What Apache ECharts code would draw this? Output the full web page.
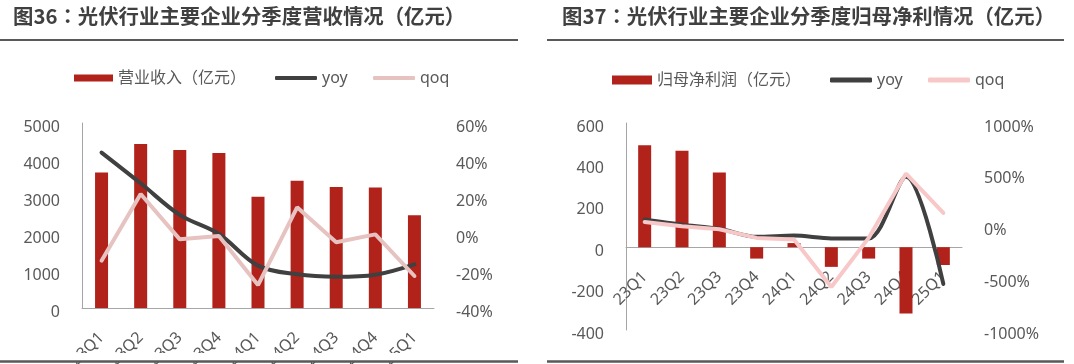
<!DOCTYPE html>
<html><head><meta charset="utf-8">
<script src="https://cdn.jsdelivr.net/npm/echarts@6/dist/echarts.min.js"></script>
<style>html,body{margin:0;padding:0;background:#fff}#c{width:1074px;height:364px}</style>
</head><body><div id="c"></div>
<script>
const categories = ['23Q1','23Q2','23Q3','23Q4','24Q1','24Q2','24Q3','24Q4','25Q1'];
const revenue = [3660, 4430, 4270, 4190, 3010, 3440, 3270, 3260, 2510];
const revenueYoy = [44, 27.4, 10.3, 0, -17.1, -21.8, -23.1, -22, -16.4];
const revenueQoq = [-14.4, 21.6, -2.9, -1.1, -27.6, 14.4, -4.5, -0.2, -22.7];
const profit = [492, 466, 361, -55, 20, -95, -55, -320, -86];
const profitYoy = [68, 18, -22, -100, -88, -115, -115, 480, -555];
const profitQoq = [44, 3, -26, -110, -125, -585, -110, 511, 131];
const leftTicks = {min: 0, max: 5000, interval: 1000};
const leftPct = {min: -40, max: 60, interval: 20};
const rightTicks = {min: -400, max: 600, interval: 200};
const rightPct = {min: -1000, max: 1000, interval: 500};

const FONT = "'Noto Sans', 'Noto Sans CJK SC', sans-serif";
const TXT = '#595959';
const RED = '#B0221A';
const DARK = '#404040';
const chart = echarts.init(document.getElementById('c'));

const G1 = {left: 82, right: 640, top: 123, bottom: 56, outerBoundsMode: 'none'};
const G2 = {left: 626, right: 112, top: 123, bottom: 34, outerBoundsMode: 'none'};
const g2h = 364 - G2.top - G2.bottom;
const zeroOffset = -(0 - rightTicks.min) / (rightTicks.max - rightTicks.min) * g2h;

function yAx(grid, t, pct, showLine) {
  return {
    type: 'value', gridIndex: grid, min: t.min, max: t.max, interval: t.interval,
    splitLine: {show: false}, axisTick: {show: false},
    axisLine: {show: showLine, lineStyle: {color: '#A6A6A6', width: 1}},
    axisLabel: {color: TXT, fontSize: 16, fontFamily: FONT, margin: 22,
      formatter: v => '{a|' + v + (pct ? '%' : '') + '}',
      rich: {a: {color: TXT, fontSize: 16, fontFamily: FONT, padding: [8, 0, 0, 0]}}}
  };
}
function xAx(grid, offset) {
  return {
    type: 'category', gridIndex: grid, data: categories, offset: offset,
    axisTick: {show: false},
    axisLine: {show: true, onZero: false, lineStyle: {color: '#A6A6A6', width: 1}},
    axisLabel: {color: TXT, fontSize: 16, fontFamily: FONT, rotate: 45, interval: 0, margin: 27}
  };
}
function leg(name, left, top, w, h, icon) {
  return {data: [{name: name, icon: icon}], left: left, top: top, padding: 0,
    itemWidth: w, itemHeight: h, selectedMode: false,
    textStyle: {color: TXT, fontSize: 16, fontFamily: FONT}};
}
const titleStyle = {fontSize: 20.4, fontWeight: 'bold', color: DARK, fontFamily: "'Noto Sans CJK SC', sans-serif",
  rich: {c: {fontSize: 20.4, fontWeight: 'bold', color: DARK, fontFamily: "'Noto Sans CJK JP', sans-serif"}}};

chart.setOption({
  animation: false,
  title: [
    {text: '图36{c|：}光伏行业主要企业分季度营收情况（亿元）', left: 13, top: 6, padding: 0, textStyle: titleStyle},
    {text: '图37{c|：}光伏行业主要企业分季度归母净利情况（亿元）', left: 562, top: 6, padding: 0, textStyle: titleStyle}
  ],
  legend: [
    leg('营业收入（亿元）', 74, 70, 39, 7, 'rect'),
    leg('yoy ', 275, 70, 42, 4, 'roundRect'),
    leg('qoq ', 373, 70, 42, 4, 'roundRect'),
    leg('归母净利润（亿元）', 612, 72, 40, 9, 'rect'),
    leg('yoy', 830, 72, 42, 5, 'roundRect'),
    leg('qoq', 928, 72, 42, 5, 'roundRect')
  ],
  grid: [G1, G2],
  xAxis: [xAx(0, 0), xAx(1, zeroOffset)],
  yAxis: [yAx(0, leftTicks, false, true), yAx(0, leftPct, true, false),
          yAx(1, rightTicks, false, true), yAx(1, rightPct, true, false)],
  series: [
    {name: '营业收入（亿元）', type: 'bar', xAxisIndex: 0, yAxisIndex: 0, data: revenue, barWidth: 13,
     itemStyle: {color: RED}},
    {name: 'yoy ', type: 'line', xAxisIndex: 0, yAxisIndex: 1, data: revenueYoy, smooth: 0.35,
     symbol: 'none', lineStyle: {color: DARK, width: 4, cap: 'round'}, itemStyle: {color: DARK}},
    {name: 'qoq ', type: 'line', xAxisIndex: 0, yAxisIndex: 1, data: revenueQoq,
     symbol: 'none', lineStyle: {color: '#E6C3C1', width: 4, cap: 'round'}, itemStyle: {color: '#E6C3C1'}},
    {name: '归母净利润（亿元）', type: 'bar', xAxisIndex: 1, yAxisIndex: 2, data: profit, barWidth: 13,
     itemStyle: {color: RED}},
    {name: 'yoy', type: 'line', xAxisIndex: 1, yAxisIndex: 3, data: profitYoy, smooth: 0.3,
     symbol: 'none', lineStyle: {color: DARK, width: 4, cap: 'round'}, itemStyle: {color: DARK}},
    {name: 'qoq', type: 'line', xAxisIndex: 1, yAxisIndex: 3, data: profitQoq,
     symbol: 'none', lineStyle: {color: '#F8C8C8', width: 4, cap: 'round'}, itemStyle: {color: '#F8C8C8'}}
  ],
  graphic: [
    {type: 'rect', z: 100, shape: {x: 0, y: 353, width: 530, height: 8}, style: {fill: '#fff'}},
    {type: 'line', z: 101, shape: {x1: 0, y1: 40, x2: 518, y2: 40}, style: {stroke: '#595959', lineWidth: 2}},
    {type: 'line', z: 101, shape: {x1: 547, y1: 40, x2: 1064, y2: 40}, style: {stroke: '#595959', lineWidth: 2}},
    {type: 'line', z: 101, shape: {x1: 0, y1: 361.5, x2: 518, y2: 361.5}, style: {stroke: '#595959', lineWidth: 2.5}},
    {type: 'line', z: 101, shape: {x1: 547, y1: 361.5, x2: 1064, y2: 361.5}, style: {stroke: '#595959', lineWidth: 2.5}}
  ]
});
</script></body></html>
